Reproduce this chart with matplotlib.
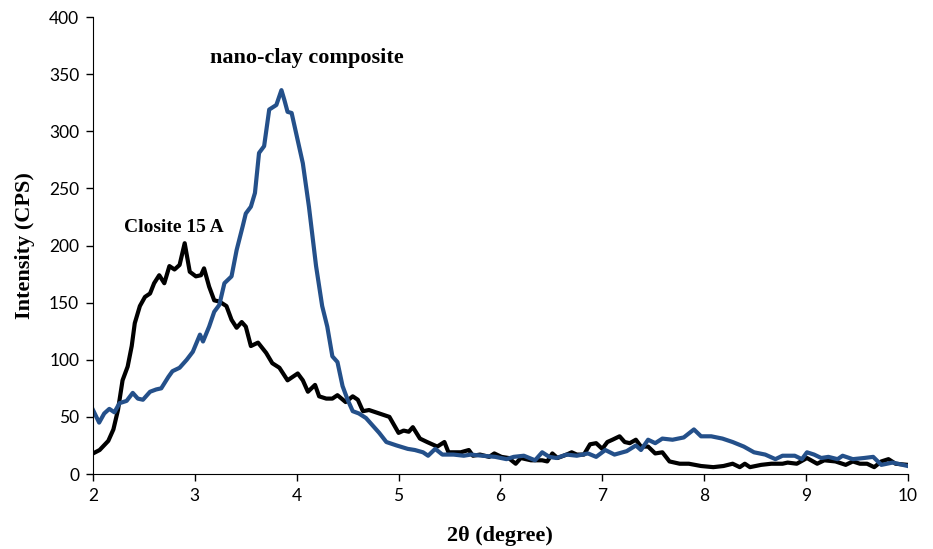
import numpy as np
import matplotlib.pyplot as plt

# Closite 15 A (black)
x_closite = [2.0, 2.065, 2.15, 2.2, 2.245, 2.29, 2.34, 2.38, 2.41, 2.46, 2.51, 2.56, 2.6, 2.65,
             2.70, 2.75, 2.80, 2.85, 2.90, 2.95, 3.01, 3.06, 3.09, 3.14, 3.19, 3.24, 3.31, 3.36,
             3.41, 3.46, 3.50, 3.55, 3.62, 3.70, 3.76, 3.83, 3.91, 4.01, 4.06, 4.11, 4.18, 4.22,
             4.29, 4.35, 4.40, 4.48, 4.55, 4.60, 4.65, 4.71, 4.81, 4.91, 5.0, 5.05, 5.10, 5.14,
             5.21, 5.28, 5.38, 5.45, 5.49, 5.61, 5.69, 5.73, 5.80, 5.89, 5.94, 6.01, 6.08, 6.15,
             6.20, 6.30, 6.41, 6.46, 6.51, 6.56, 6.65, 6.70, 6.75, 6.82, 6.88, 6.94, 7.0, 7.05,
             7.10, 7.17, 7.22, 7.27, 7.33, 7.38, 7.45, 7.52, 7.59, 7.66, 7.76, 7.85, 7.97, 8.09,
             8.19, 8.28, 8.35, 8.40, 8.45, 8.56, 8.66, 8.77, 8.82, 8.91, 9.01, 9.11, 9.18, 9.29,
             9.39, 9.46, 9.53, 9.60, 9.67, 9.74, 9.81, 9.88, 10.0]
y_closite = [18, 21, 29, 39, 56, 82, 94, 112, 132, 147, 155, 158, 167, 174,
             167, 182, 179, 183, 202, 177, 173, 174, 180, 164, 152, 151, 147, 135,
             128, 133, 129, 112, 115, 106, 97, 93, 82, 88, 82, 72, 78, 68,
             66, 66, 69, 63, 68, 65, 55, 56, 53, 50, 36, 38, 37, 41,
             31, 28, 24, 28, 19, 19, 21, 16, 17, 15, 18, 15, 14, 9,
             14, 12, 12, 11, 18, 14, 17, 19, 17, 17, 26, 27, 22, 28,
             30, 33, 28, 27, 30, 24, 24, 18, 19, 11, 9, 9, 7, 6,
             7, 9, 6, 9, 6, 8, 9, 9, 10, 9, 14, 9, 12, 11,
             8, 11, 9, 9, 6, 11, 13, 9, 8]

# nano-clay composite (blue)
x_nano = [2.0, 2.06, 2.11, 2.16, 2.21, 2.26, 2.33, 2.39, 2.44, 2.49, 2.56, 2.62, 2.67, 2.74,
          2.78, 2.85, 2.92, 2.98, 3.05, 3.08, 3.14, 3.19, 3.24, 3.29, 3.36, 3.41, 3.47, 3.50,
          3.55, 3.59, 3.63, 3.68, 3.73, 3.80, 3.85, 3.88, 3.91, 3.95, 4.01, 4.06, 4.12, 4.19,
          4.25, 4.30, 4.35, 4.40, 4.45, 4.50, 4.55, 4.61, 4.68, 4.75, 4.81, 4.88, 4.98, 5.09,
          5.16, 5.24, 5.29, 5.36, 5.43, 5.54, 5.64, 5.71, 5.82, 5.95, 6.06, 6.13, 6.23, 6.34,
          6.41, 6.48, 6.55, 6.65, 6.75, 6.86, 6.94, 7.03, 7.12, 7.24, 7.33, 7.38, 7.45, 7.52,
          7.59, 7.69, 7.80, 7.90, 7.97, 8.07, 8.18, 8.28, 8.39, 8.49, 8.60, 8.70, 8.77, 8.89,
          8.96, 9.01, 9.08, 9.15, 9.22, 9.31, 9.36, 9.46, 9.57, 9.66, 9.74, 9.85, 10.0]
y_nano = [56, 45, 53, 57, 54, 62, 64, 71, 66, 65, 72, 74, 75, 85,
          90, 93, 100, 107, 122, 116, 129, 142, 148, 167, 173, 196, 217, 228,
          234, 246, 281, 287, 319, 323, 336, 327, 317, 316, 292, 272, 234, 182,
          147, 129, 103, 98, 77, 65, 55, 53, 49, 42, 36, 28, 25, 22,
          21, 19, 16, 22, 17, 17, 16, 17, 16, 15, 13, 15, 16, 12,
          19, 15, 14, 17, 16, 18, 15, 21, 17, 20, 25, 21, 30, 27,
          31, 30, 32, 39, 33, 33, 31, 28, 24, 19, 17, 13, 16, 16,
          13, 19, 17, 14, 15, 13, 16, 13, 14, 15, 8, 10, 7]

fig = plt.figure(figsize=(9.33, 5.49), dpi=100)
ax = fig.add_axes([0.0997, 0.1366, 0.8733, 0.8324])

ax.plot(x_closite, y_closite, color='black', lw=3, solid_joinstyle='round')
ax.plot(x_nano, y_nano, color='#24508a', lw=3, solid_joinstyle='round')

ax.set_xlim(2, 10)
ax.set_ylim(0, 400)
ax.set_xticks(range(2, 11))
ax.set_yticks(range(0, 401, 50))
for s in ['top', 'right']:
    ax.spines[s].set_visible(False)
ax.tick_params(direction='out', length=5, width=1, labelsize=12.5, pad=5)
for lab in ax.get_xticklabels() + ax.get_yticklabels():
    lab.set_family('Lato')

serif = dict(family='Liberation Serif', weight='bold')
ax.set_xlabel('2θ (degree)', fontsize=16, labelpad=16, **serif)
ax.set_ylabel('Intensity (CPS)', fontsize=16, labelpad=10, **serif)

ax.text(4.10, 364, 'nano-clay composite', ha='center', va='center', fontsize=16, **serif)
ax.text(2.79, 216, 'Closite 15 A', ha='center', va='center', fontsize=14, **serif)

fig.savefig('out.png', dpi=100)
